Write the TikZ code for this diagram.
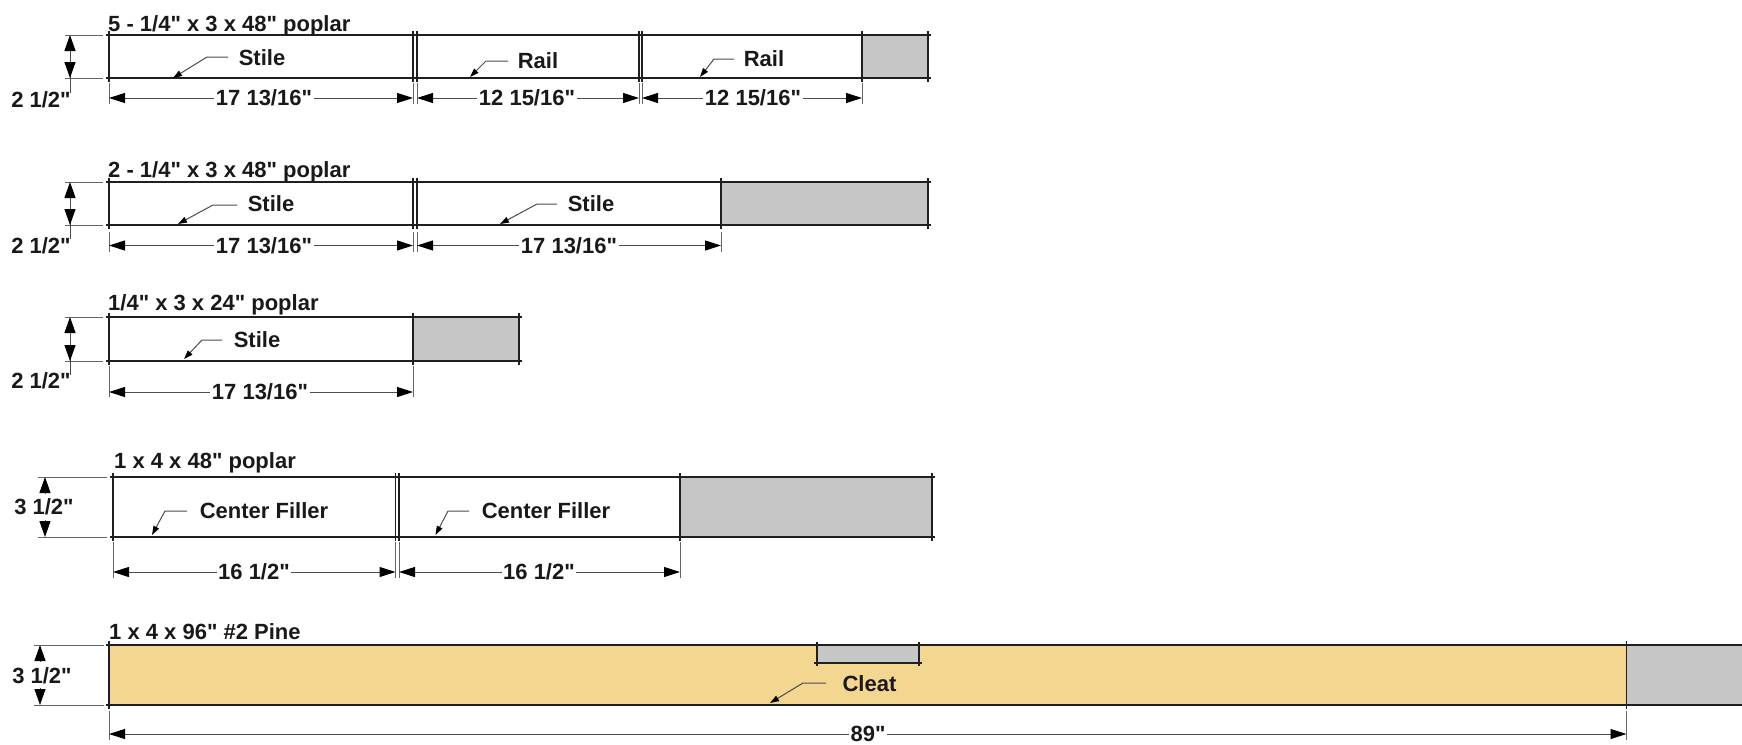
\documentclass[tikz,border=0pt]{standalone}
\usepackage{fontspec}
\newfontfamily\labfont{Liberation Sans}
\usetikzlibrary{arrows.meta}
\definecolor{pine}{HTML}{F3D68F}
\definecolor{waste}{HTML}{C6C6C6}
\definecolor{thinline}{HTML}{666666}
\tikzset{
  edge/.style={draw=black!88,line width=1.6pt},
  ext/.style={draw=thinline,line width=0.8pt},
  dim/.style={draw=black!70,line width=1pt,{Triangle[length=16pt,width=10pt,color=black]}-{Triangle[length=16pt,width=10pt,color=black]}},
  stub/.style={draw=black!70,line width=1pt,-{Triangle[length=16pt,width=11pt,color=black]}},
  leader/.style={draw=black!70,line width=1pt,-{Triangle[length=9pt,width=6pt,color=black]}},
  lbl/.style={font=\labfont\bfseries\fontsize{22}{24}\selectfont,text=black!90,inner sep=0pt},
  dimlbl/.style={lbl,fill=white,inner xsep=1.5pt,inner ysep=0pt},
  title/.style={lbl,anchor=west},
}
% \board{left}{right}{top}{bottom}: outline with the small overshoot at corners
\newcommand{\board}[4]{%
  \draw[edge] (#1-3,#3)--(#2+3,#3) (#1-3,#4)--(#2+3,#4);
  \draw[edge] (#1,#3-4)--(#1,#4+4) (#2,#3-4)--(#2,#4+4);}
\newcommand{\vext}[3]{\draw[ext] (#1,#2)--(#1,#3);}
\newcommand{\hext}[3]{\draw[ext] (#2,#1)--(#3,#1);}
\begin{document}
\begin{tikzpicture}[x=1pt,y=-1pt]
\useasboundingbox (0,0) rectangle (1742,744);
% ---- row 1
\fill[waste] (862,35) rectangle (928,78);
\board{109}{413}{35}{78}\board{417}{639}{35}{78}\board{642}{862}{35}{78}\board{862}{928}{35}{78}
\node[title] (t1) at (108,26) {5 - 1/4" x 3 x 48" poplar};
\hext{35}{65}{103}\hext{78}{65}{103}
\draw[stub,-] (70,57)--(70,93);
\draw[stub] (70,57)--(70,35);
\draw[stub] (70,57)--(70,78);
\node[lbl] (v1) at (41,100) {2 1/2"};
\vext{109}{83}{104}\vext{413}{83}{104}\vext{417}{83}{104}\vext{639}{83}{104}\vext{642}{83}{104}\vext{862}{83}{104}
\draw[dim] (109,98)--(413,98); \node[dimlbl] (d1a) at (264,98) {17 13/16"};
\draw[dim] (417,98)--(639,98); \node[dimlbl] (d1b) at (527,98) {12 15/16"};
\draw[dim] (642,98)--(862,98); \node[dimlbl] (d1c) at (753,98) {12 15/16"};
\node[lbl] (s1) at (262,58) {Stile};
\draw[leader] (228,57)--(207,57)--(173,78);
\node[lbl] (r1) at (538,61) {Rail};
\draw[leader] (508,61)--(486,61)--(470,77);
\node[lbl] (r2) at (764,59) {Rail};
\draw[leader] (734,59)--(714,59)--(700,77);
% ---- row 2
\fill[waste] (721,182) rectangle (928,225);
\board{109}{413}{182}{225}\board{417}{721}{182}{225}\board{721}{928}{182}{225}
\node[title] (t2) at (108,172) {2 - 1/4" x 3 x 48" poplar};
\hext{182}{65}{103}\hext{225}{65}{103}
\draw[stub,-] (70,204)--(70,239);
\draw[stub] (70,204)--(70,182);
\draw[stub] (70,204)--(70,225);
\node[lbl] (v2) at (41,246) {2 1/2"};
\vext{109}{232}{252}\vext{413}{232}{252}\vext{417}{232}{252}\vext{721}{232}{252}
\draw[dim] (109,245.5)--(413,245.5); \node[dimlbl] (d2a) at (264,245.5) {17 13/16"};
\draw[dim] (417,245.5)--(721,245.5); \node[dimlbl] (d2b) at (569,245.5) {17 13/16"};
\node[lbl] (s2) at (271,204) {Stile};
\draw[leader] (237,205)--(213,205)--(178,224);
\node[lbl] (s3) at (591,204) {Stile};
\draw[leader] (557,204)--(537,204)--(500,224);
% ---- row 3
\fill[waste] (413,317) rectangle (519,361);
\board{109}{413}{317}{361}\board{413}{519}{317}{361}
\node[title] (t3) at (108,305) {1/4" x 3 x 24" poplar};
\hext{317}{65}{103}\hext{361}{65}{103}
\draw[stub,-] (70,340)--(70,375);
\draw[stub] (70,340)--(70,317);
\draw[stub] (70,340)--(70,361);
\node[lbl] (v3) at (41,381) {2 1/2"};
\vext{109}{366}{397}\vext{413}{366}{397}
\draw[dim] (109,392)--(413,392); \node[dimlbl] (d3a) at (260,392) {17 13/16"};
\node[lbl] (s4) at (257,340) {Stile};
\draw[leader] (222,340)--(202,340)--(184,359);
% ---- row 4
\fill[waste] (680,477) rectangle (932,537);
\board{113}{395.5}{477}{537}\board{399}{680}{477}{537}\board{680}{932}{477}{537}
\node[title] (t4) at (114,463) {1 x 4 x 48" poplar};
\hext{477}{38}{107}\hext{537}{38}{107}
\draw[stub] (45,494)--(45,477);
\draw[stub] (45,520)--(45,537);
\node[lbl] (v4) at (44,507) {3 1/2"};
\vext{113}{542}{578}\vext{395.5}{542}{578}\vext{399}{542}{578}\vext{680}{542}{578}
\draw[dim] (113,572)--(395.5,572); \node[dimlbl] (d4a) at (254,572) {16 1/2"};
\draw[dim] (399,572)--(680,572); \node[dimlbl] (d4b) at (539,572) {16 1/2"};
\node[lbl] (c1) at (264,511) {Center Filler};
\draw[leader] (187,511)--(165,511)--(152,535);
\node[lbl] (c2) at (546,511) {Center Filler};
\draw[leader] (469,511)--(448,511)--(435.5,535);
% ---- row 5
\fill[pine] (109,645) rectangle (1626.5,705);
\fill[waste] (1626.5,645) rectangle (1742,705);
\fill[waste] (817,645) rectangle (919,663);
\draw[edge] (106,645)--(1742,645) (106,705)--(1742,705);
\draw[edge] (109,641)--(109,709) (1626.5,641)--(1626.5,709);
\draw[edge] (817,642)--(817,666) (919,642)--(919,666) (814,663)--(922,663);
\node[title] (t5) at (109,632) {1 x 4 x 96" \#2 Pine};
\hext{645}{34}{104}\hext{705}{34}{104}
\draw[stub] (40,662)--(40,645);
\draw[stub] (40,688)--(40,705);
\node[lbl] (v5) at (42,676) {3 1/2"};
\vext{109}{711}{740}\vext{1626.5}{711}{740}
\draw[dim] (109,734)--(1626.5,734); \node[dimlbl] (d5) at (868,734) {89"};
\node[lbl] (cl) at (869.5,684) {Cleat};
\draw[leader] (826,683)--(803,683)--(770,703);
\end{tikzpicture}
\end{document}
